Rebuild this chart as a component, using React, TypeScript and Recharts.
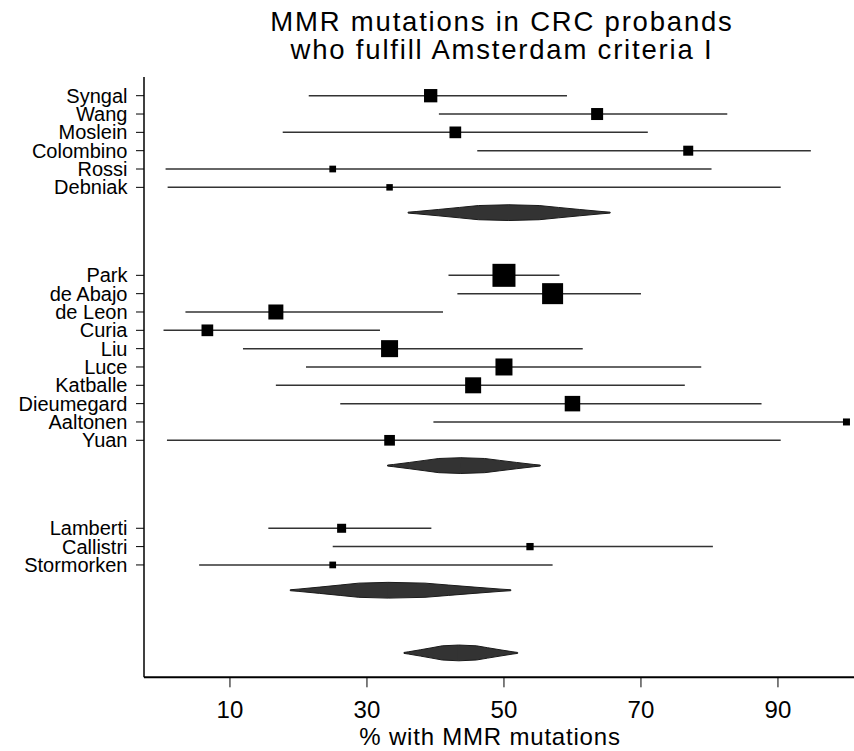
import React from 'react';
import { ComposedChart, Scatter, XAxis, YAxis, ReferenceLine, ReferenceArea } from 'recharts';

// ---- Data ----
const GROUP1_NAMES = ['Syngal', 'Wang', 'Moslein', 'Colombino', 'Rossi', 'Debniak'];
const GROUP1_EST = [39.3, 63.6, 42.9, 76.9, 25.0, 33.3];
const GROUP1_LO = [21.5, 40.5, 17.7, 46.1, 0.6, 0.9];
const GROUP1_HI = [59.2, 82.6, 71.0, 94.8, 80.3, 90.4];
const GROUP1_WEIGHT = [17.7, 14.4, 13.7, 10.0, 4.5, 4.2];
const GROUP1_POOLED = { lo: 36.0, est: 50.7, hi: 65.5 };

const GROUP2_NAMES = ['Park', 'de Abajo', 'de Leon', 'Curia', 'Liu', 'Luce', 'Katballe', 'Dieumegard', 'Aaltonen', 'Yuan'];
const GROUP2_EST = [50.0, 57.1, 16.7, 6.7, 33.3, 50.0, 45.5, 60.0, 100.0, 33.3];
const GROUP2_LO = [41.9, 43.2, 3.5, 0.3, 11.9, 21.1, 16.7, 26.1, 39.7, 0.8];
const GROUP2_HI = [58.1, 70.0, 41.1, 31.9, 61.5, 78.8, 76.4, 87.6, 100.0, 90.4];
const GROUP2_WEIGHT = [52.9, 44.1, 22.5, 13.7, 28.9, 28.9, 25.6, 24.0, 4.9, 11.4];
const GROUP2_POOLED = { lo: 33.0, est: 43.7, hi: 55.3 };

const GROUP3_NAMES = ['Lamberti', 'Callistri', 'Stormorken'];
const GROUP3_EST = [26.3, 53.8, 25.0];
const GROUP3_LO = [15.6, 25.0, 5.5];
const GROUP3_HI = [39.4, 80.5, 57.1];
const GROUP3_WEIGHT = [8.1, 5.3, 4.5];
const GROUP3_POOLED = { lo: 18.8, est: 33.1, hi: 51.0 };

const OVERALL_POOLED = { lo: 35.4, est: 43.4, hi: 52.0 };

const X_TICKS = [10, 30, 50, 70, 90];
const TITLE_LINES = ['MMR mutations in CRC probands', 'who fulfill Amsterdam criteria I'];
const X_LABEL = '% with MMR mutations';

// ---- Layout constants (row units) ----
const DIAMOND_OFFSET = 1.38;
const GROUP_GAP = 3.42;
const DIAMOND_HALF = 0.43;
const X_DOMAIN: [number, number] = [-2.55, 101.1];
const Y_DOMAIN: [number, number] = [-1.02, 31.73];
const FONT = '"Liberation Sans", Arial, Helvetica, sans-serif';

type Study = { name: string; est: number; lo: number; hi: number; w: number; row: number };
type Pooled = { lo: number; est: number; hi: number; row: number };

const groups = [
  { names: GROUP1_NAMES, est: GROUP1_EST, lo: GROUP1_LO, hi: GROUP1_HI, w: GROUP1_WEIGHT, pooled: GROUP1_POOLED },
  { names: GROUP2_NAMES, est: GROUP2_EST, lo: GROUP2_LO, hi: GROUP2_HI, w: GROUP2_WEIGHT, pooled: GROUP2_POOLED },
  { names: GROUP3_NAMES, est: GROUP3_EST, lo: GROUP3_LO, hi: GROUP3_HI, w: GROUP3_WEIGHT, pooled: GROUP3_POOLED },
];

const studies: Study[] = [];
const pooledRows: Pooled[] = [];
let pos = 0;
let lastDiamond = 0;
groups.forEach((g) => {
  g.names.forEach((n, i) => {
    studies.push({ name: n, est: g.est[i], lo: g.lo[i], hi: g.hi[i], w: g.w[i], row: pos + i });
  });
  lastDiamond = pos + g.names.length - 1 + DIAMOND_OFFSET;
  pooledRows.push({ ...g.pooled, row: lastDiamond });
  pos = lastDiamond + GROUP_GAP;
});
pooledRows.push({ ...OVERALL_POOLED, row: lastDiamond + GROUP_GAP });

const rowNames = new Map<number, string>();
studies.forEach((s) => rowNames.set(s.row, s.name));
const studyRows = studies.map((s) => s.row);

const Square = (props: any) => {
  const { cx, cy, payload } = props;
  if (cx == null || cy == null) return null;
  const s = Math.sqrt(payload.w * 10);
  return <rect x={cx - s / 2} y={cy - s / 2} width={s} height={s} fill="#000" />;
};

// profile of the (slightly rounded) diamond: [distance from centre (0..1), half height fraction]
const PROFILE: [number, number][] = [
  [0, 1],
  [0.3, 0.9],
  [0.49, 0.66],
  [0.7, 0.4],
  [0.92, 0.14],
  [1, 0.06],
];

const makeHalfDiamond = (side: 'left' | 'right') => (props: any) => {
  const { x, y, width, height } = props;
  if ([x, y, width, height].some((v) => v == null || isNaN(v))) return null;
  const left = Math.min(x, x + width);
  const w = Math.abs(width);
  const top = Math.min(y, y + height);
  const h = Math.abs(height);
  const cy = top + h / 2;
  const half = h / 2;
  const cx = side === 'left' ? left + w : left;
  const dir = side === 'left' ? -1 : 1;
  const overlap = -dir * 0.8; // overlap the two halves slightly to hide the seam
  const topPts = PROFILE.map(([t, f]) => [t === 0 ? cx + overlap : cx + dir * t * w, cy - f * half]);
  const botPts = PROFILE.slice()
    .reverse()
    .map(([t, f]) => [t === 0 ? cx + overlap : cx + dir * t * w, cy + f * half]);
  const pts = [...topPts, ...botPts].map((p) => `${p[0]},${p[1]}`).join(' ');
  const outline = [...topPts.slice(1), ...botPts.slice(0, -1)];
  const outlinePath =
    `M${cx},${cy - half} ` +
    topPts.slice(1).map((p) => `L${p[0]},${p[1]}`).join(' ') +
    ' ' +
    botPts.slice(0, -1).map((p) => `L${p[0]},${p[1]}`).join(' ') +
    ` L${cx},${cy + half}`;
  void outline;
  return (
    <g>
      <polygon points={pts} fill="#333" stroke="none" />
      <path d={outlinePath} fill="none" stroke="#1a1a1a" strokeWidth={1} strokeLinejoin="round" />
    </g>
  );
};
const LeftHalf = makeHalfDiamond('left');
const RightHalf = makeHalfDiamond('right');

export default function App() {
  return (
    <div style={{ position: 'absolute', left: 0, top: 0, width: 854, height: 751, background: '#fff', fontFamily: FONT, color: '#000' }}>
      <div
        style={{
          position: 'absolute',
          left: 252,
          top: 7.6,
          width: 500,
          textAlign: 'center',
          fontSize: 27.5,
          letterSpacing: 1.8,
          lineHeight: '28.7px',
          whiteSpace: 'nowrap',
        }}
      >
        {TITLE_LINES.map((l) => (
          <div key={l}>{l}</div>
        ))}
      </div>
      <ComposedChart width={854} height={751} margin={{ top: 77, right: 0, bottom: 0, left: 0 }}>
        <XAxis
          xAxisId="b"
          type="number"
          dataKey="est"
          domain={X_DOMAIN}
          allowDataOverflow
          ticks={X_TICKS}
          interval={0}
          height={73.7}
          tickSize={10}
          tickMargin={14}
          axisLine={{ stroke: '#000', strokeWidth: 2 }}
          tickLine={{ stroke: '#000', strokeWidth: 1 }}
          tick={{ fill: '#000', fontSize: 24, fontFamily: FONT }}
        />
        <XAxis
          xAxisId="t"
          orientation="top"
          type="number"
          domain={X_DOMAIN}
          allowDataOverflow
          height={0}
          tick={false}
          tickLine={false}
          axisLine={{ stroke: '#000', strokeWidth: 1.5 }}
        />
        <YAxis
          yAxisId="l"
          type="number"
          dataKey="row"
          domain={Y_DOMAIN}
          allowDataOverflow
          reversed
          width={144}
          ticks={studyRows}
          interval={0}
          tickSize={8}
          tickMargin={8.5}
          tickFormatter={(v: number) => rowNames.get(v) ?? ''}
          axisLine={{ stroke: '#000', strokeWidth: 1.5 }}
          tickLine={{ stroke: '#000', strokeWidth: 1 }}
          tick={{ fill: '#000', fontSize: 20, fontFamily: FONT }}
        />
        {studies.map((s) => (
          <ReferenceLine
            key={`ci-${s.name}`}
            xAxisId="b"
            yAxisId="l"
            segment={[
              { x: s.lo, y: s.row },
              { x: s.hi, y: s.row },
            ]}
            stroke="#333"
            strokeWidth={1.5}
            ifOverflow="visible"
          />
        ))}
        {pooledRows.map((p, i) => (
          <ReferenceArea
            key={`dl-${i}`}
            xAxisId="b"
            yAxisId="l"
            x1={p.lo}
            x2={p.est}
            y1={p.row - DIAMOND_HALF}
            y2={p.row + DIAMOND_HALF}
            ifOverflow="visible"
            shape={LeftHalf}
          />
        ))}
        {pooledRows.map((p, i) => (
          <ReferenceArea
            key={`dr-${i}`}
            xAxisId="b"
            yAxisId="l"
            x1={p.est}
            x2={p.hi}
            y1={p.row - DIAMOND_HALF}
            y2={p.row + DIAMOND_HALF}
            ifOverflow="visible"
            shape={RightHalf}
          />
        ))}
        <Scatter
          xAxisId="b"
          yAxisId="l"
          data={studies}
          dataKey="est"
          isAnimationActive={false}
          shape={Square}
        />
      </ComposedChart>
      <div
        style={{
          position: 'absolute',
          left: 240,
          top: 724.7,
          width: 500,
          textAlign: 'center',
          fontSize: 24,
          letterSpacing: 0.8,
          lineHeight: '24px',
          whiteSpace: 'nowrap',
        }}
      >
        {X_LABEL}
      </div>
    </div>
  );
}
